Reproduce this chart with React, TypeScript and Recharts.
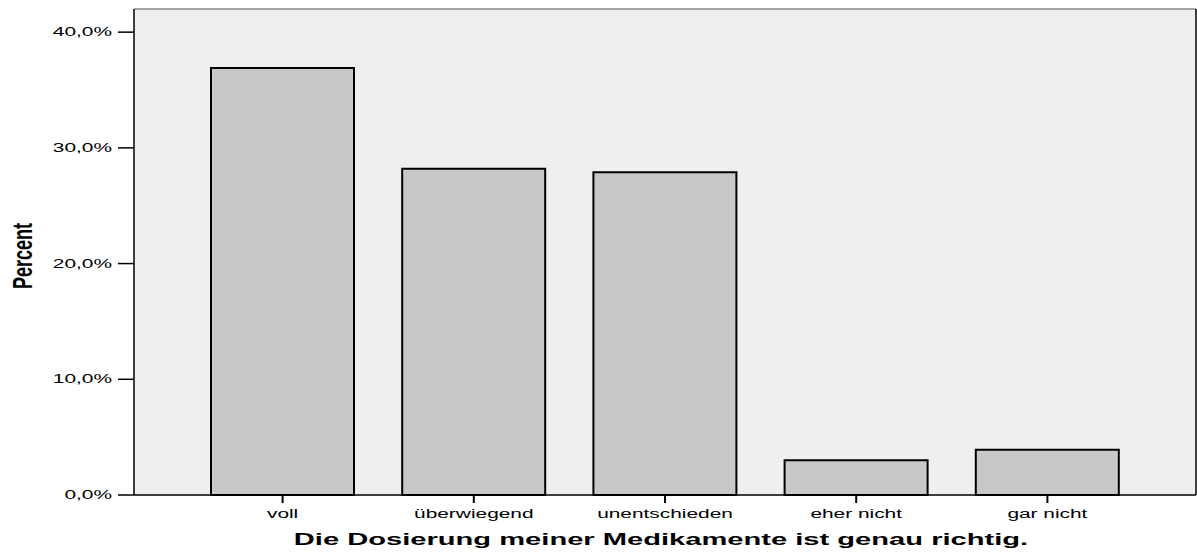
import React from 'react';
import { BarChart, Bar, XAxis, YAxis, CartesianGrid, Label } from 'recharts';

const categories = ['voll', 'überwiegend', 'unentschieden', 'eher nicht', 'gar nicht'];
const percentValues = [36.9, 28.2, 27.9, 3.0, 3.9];
const yTicks = [0, 10, 20, 30, 40];

const data = categories.map((c, i) => ({ name: c, value: percentValues[i] }));

const fmt = (v: number) => v.toFixed(1).replace('.', ',') + '%';

const FONT = 'Liberation Sans, Arial, Helvetica, sans-serif';
const SX = 1.74;

const YTick = (props: any) => {
  const { x, y, payload } = props;
  return (
    <text
      transform={`translate(${x},${y}) scale(${SX},1)`}
      x={0}
      y={0}
      dy={4.2}
      textAnchor="end"
      fontSize={12}
      fontFamily={FONT}
      fill="#000"
    >
      {fmt(payload.value)}
    </text>
  );
};

const XTick = (props: any) => {
  const { x, y, payload } = props;
  return (
    <text
      transform={`translate(${x},${y}) scale(${SX},1)`}
      x={0}
      y={0}
      dy={13.5}
      textAnchor="middle"
      fontSize={12}
      fontFamily={FONT}
      fill="#000"
    >
      {payload.value}
    </text>
  );
};

const XTitle = (props: any) => {
  const vb = props.viewBox || {};
  const cx = vb.x + vb.width / 2 - 4;
  const cy = vb.y + 50;
  return (
    <text
      transform={`translate(${cx},${cy}) scale(1.82,1)`}
      x={0}
      y={0}
      textAnchor="middle"
      fontSize={16}
      fontWeight="bold"
      fontFamily={FONT}
      fill="#000"
    >
      Die Dosierung meiner Medikamente ist genau richtig.
    </text>
  );
};

const YTitle = (props: any) => {
  const vb = props.viewBox || {};
  const cy = vb.y + vb.height / 2 + 4;
  const cx = 32;
  return (
    <text
      transform={`translate(${cx},${cy}) scale(1.55,1) rotate(-90)`}
      x={0}
      y={0}
      textAnchor="middle"
      fontSize={18}
      fontWeight="bold"
      fontFamily={FONT}
      fill="#000"
    >
      Percent
    </text>
  );
};

export default function App() {
  return (
    <div style={{ position: 'absolute', left: 0, top: 0, background: '#fff' }}>
      <BarChart
        width={1197}
        height={553}
        data={data}
        margin={{ top: 9, right: 1, bottom: 0, left: 0 }}
      >
        <CartesianGrid fill="#EFEFEF" stroke="none" horizontal={false} vertical={false} />
        <CartesianGrid
          vertical={false}
          stroke="#888888"
          strokeWidth={1.5}
          strokeDasharray="0"
          horizontalCoordinatesGenerator={(p: any) => [p.offset.top]}
        />
        <CartesianGrid
          horizontal={false}
          stroke="#000"
          strokeWidth={1.5}
          strokeDasharray="0"
          verticalCoordinatesGenerator={(p: any) => [p.offset.left + p.offset.width]}
        />
        <XAxis
          dataKey="name"
          height={58}
          padding={{ left: 53, right: 53 }}
          axisLine={{ stroke: '#000', strokeWidth: 1.5 }}
          tickLine={{ stroke: '#000', strokeWidth: 2 }}
          tickSize={8}
          tickMargin={2}
          tick={<XTick />}
          interval={0}
        >
          <Label content={<XTitle />} />
        </XAxis>
        <YAxis
          width={134}
          domain={[0, 42]}
          ticks={yTicks}
          tickFormatter={fmt}
          axisLine={{ stroke: '#000', strokeWidth: 1.5 }}
          tickLine={{ stroke: '#000', strokeWidth: 1.5 }}
          tickSize={16}
          tickMargin={6}
          tick={<YTick />}
        >
          <Label content={<YTitle />} />
        </YAxis>
        <Bar
          dataKey="value"
          fill="#C8C8C8"
          stroke="#000"
          strokeWidth={2}
          barSize={143}
          isAnimationActive={false}
        />
      </BarChart>
    </div>
  );
}
